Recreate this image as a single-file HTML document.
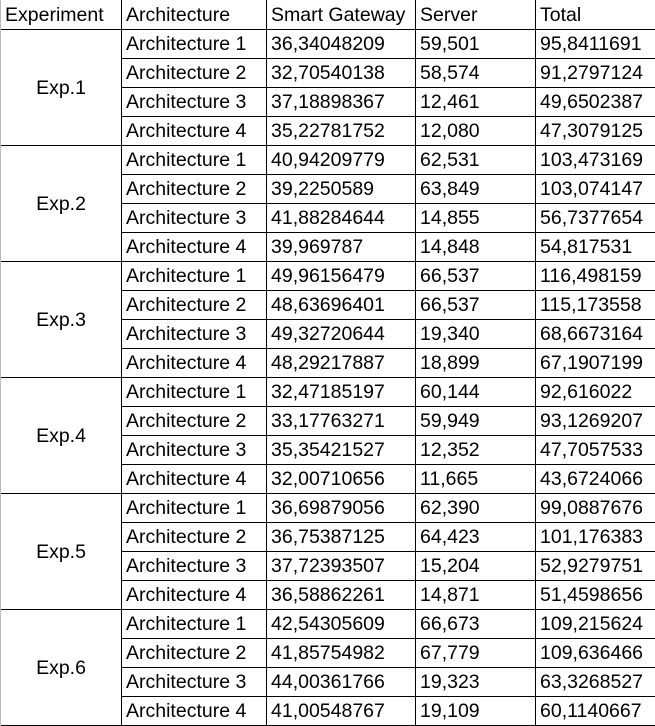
<!DOCTYPE html>
<html><head><meta charset="utf-8"><style>
html,body{margin:0;padding:0;background:#fff;width:655px;height:726px;overflow:hidden}
.g{display:grid;grid-template-columns:121px 145px 149px 120px 120px;grid-template-rows:30px repeat(24,29px);font-family:"Liberation Sans",sans-serif;font-size:19.5px;color:#000;border-left:1px solid #bbb;width:654px}
.g div{box-sizing:border-box;border-right:1px solid #000;border-bottom:1px solid #000;padding-left:4px;display:flex;align-items:center;white-space:nowrap;overflow:hidden;padding-top:1px}
.g div.e{grid-row:span 4;justify-content:center;padding-left:0}
</style></head><body>
<div class="g">
<div>Experiment</div><div>Architecture</div><div>Smart Gateway</div><div>Server</div><div>Total</div>
<div class="e">Exp.1</div><div>Architecture 1</div><div>36,34048209</div><div>59,501</div><div>95,8411691</div>
<div>Architecture 2</div><div>32,70540138</div><div>58,574</div><div>91,2797124</div>
<div>Architecture 3</div><div>37,18898367</div><div>12,461</div><div>49,6502387</div>
<div>Architecture 4</div><div>35,22781752</div><div>12,080</div><div>47,3079125</div>
<div class="e">Exp.2</div><div>Architecture 1</div><div>40,94209779</div><div>62,531</div><div>103,473169</div>
<div>Architecture 2</div><div>39,2250589</div><div>63,849</div><div>103,074147</div>
<div>Architecture 3</div><div>41,88284644</div><div>14,855</div><div>56,7377654</div>
<div>Architecture 4</div><div>39,969787</div><div>14,848</div><div>54,817531</div>
<div class="e">Exp.3</div><div>Architecture 1</div><div>49,96156479</div><div>66,537</div><div>116,498159</div>
<div>Architecture 2</div><div>48,63696401</div><div>66,537</div><div>115,173558</div>
<div>Architecture 3</div><div>49,32720644</div><div>19,340</div><div>68,6673164</div>
<div>Architecture 4</div><div>48,29217887</div><div>18,899</div><div>67,1907199</div>
<div class="e">Exp.4</div><div>Architecture 1</div><div>32,47185197</div><div>60,144</div><div>92,616022</div>
<div>Architecture 2</div><div>33,17763271</div><div>59,949</div><div>93,1269207</div>
<div>Architecture 3</div><div>35,35421527</div><div>12,352</div><div>47,7057533</div>
<div>Architecture 4</div><div>32,00710656</div><div>11,665</div><div>43,6724066</div>
<div class="e">Exp.5</div><div>Architecture 1</div><div>36,69879056</div><div>62,390</div><div>99,0887676</div>
<div>Architecture 2</div><div>36,75387125</div><div>64,423</div><div>101,176383</div>
<div>Architecture 3</div><div>37,72393507</div><div>15,204</div><div>52,9279751</div>
<div>Architecture 4</div><div>36,58862261</div><div>14,871</div><div>51,4598656</div>
<div class="e">Exp.6</div><div>Architecture 1</div><div>42,54305609</div><div>66,673</div><div>109,215624</div>
<div>Architecture 2</div><div>41,85754982</div><div>67,779</div><div>109,636466</div>
<div>Architecture 3</div><div>44,00361766</div><div>19,323</div><div>63,3268527</div>
<div>Architecture 4</div><div>41,00548767</div><div>19,109</div><div>60,1140667</div>
</div>
</body></html>
